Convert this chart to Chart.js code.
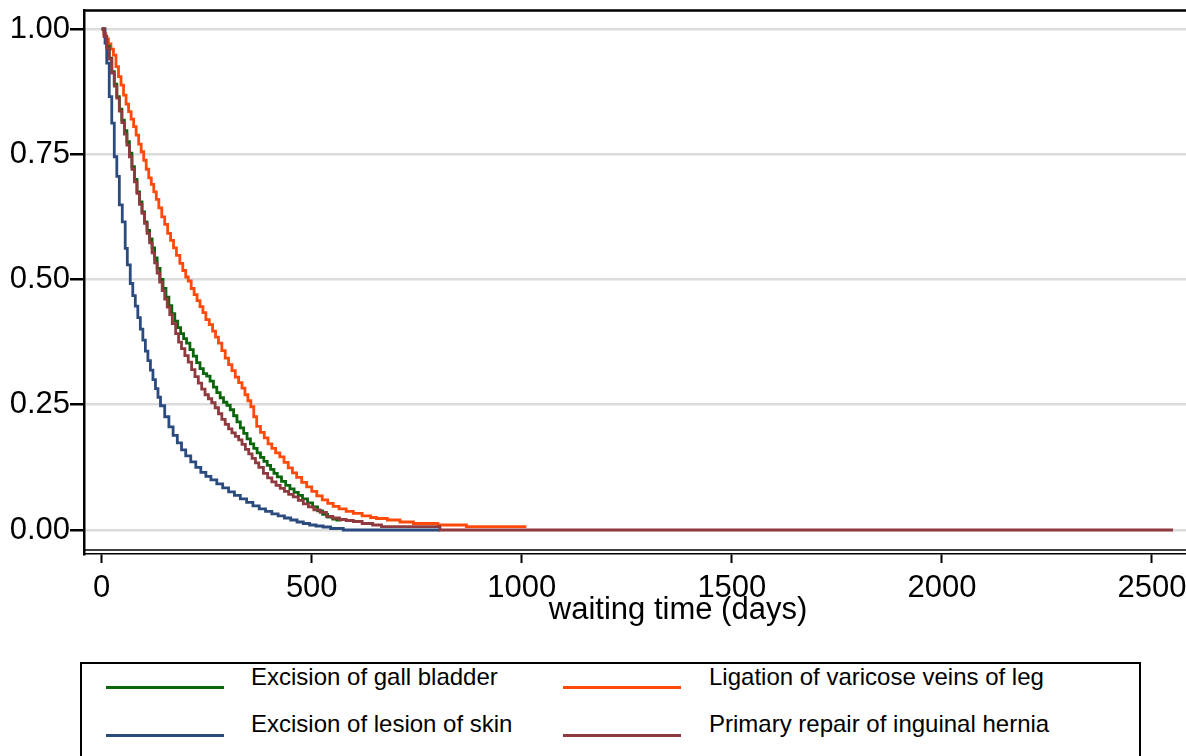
<!DOCTYPE html>
<html>
<head>
<meta charset="utf-8">
<script src="https://cdn.jsdelivr.net/npm/chart.js@4/dist/chart.umd.min.js"></script>
<style>
  html, body { margin: 0; padding: 0; background: #fff; width: 1186px; height: 756px; overflow: hidden; position: relative; font-family: "Liberation Sans", Arial, sans-serif; }
  #wrap { position: absolute; left: 0; top: 0; width: 1186px; height: 640px; }
  #legend { position: absolute; left: 80px; top: 662px; width: 1057px; height: 130px; border: 2px solid #000; box-sizing: content-box; }
  .lline { position: absolute; height: 3px; }
  .ltext { position: absolute; font-size: 24px; line-height: 24px; color: #000; white-space: nowrap; }
</style>
</head>
<body>
<div id="wrap"><canvas id="c" width="1186" height="640"></canvas></div>
<div id="legend"></div>
<script>
// ---- Data (Kaplan-Meier survivor estimates) ----
const seriesNames = ["Excision of gall bladder", "Excision of lesion of skin", "Ligation of varicose veins of leg", "Primary repair of inguinal hernia"];
const seriesColors = ["#0b650b", "#2b4a7e", "#ff4a0a", "#8e3a3f"];

const xTicks = [0, 500, 1000, 1500, 2000, 2500];
const yTicks = [0, 0.25, 0.5, 0.75, 1];
const xTitle = "waiting time (days)";

// Excision of gall bladder
const gallDays = [0,6,12,18,24,30,36,42,48,54,60,66,72,78,84,90,96,102,108,114,120,126,132,139,146,153,160,167,174,181,188,195,202,210,218,226,234,242,250,258,266,274,282,290,298,306,314,322,330,338,346,354,362,370,378,386,394,402,410,418,428,438,448,458,468,478,490,502,514,526,538,550,560,571];
const gallSurv = [1,0.985,0.965,0.942,0.915,0.89,0.865,0.84,0.818,0.797,0.775,0.752,0.725,0.70,0.675,0.655,0.635,0.615,0.598,0.581,0.563,0.543,0.522,0.500,0.482,0.465,0.448,0.432,0.417,0.404,0.392,0.382,0.373,0.360,0.347,0.334,0.322,0.312,0.307,0.297,0.285,0.274,0.264,0.255,0.249,0.240,0.228,0.216,0.204,0.193,0.182,0.172,0.163,0.154,0.145,0.137,0.129,0.121,0.113,0.106,0.097,0.089,0.082,0.075,0.069,0.062,0.054,0.046,0.038,0.031,0.026,0.022,0.020,0.020];

// Excision of lesion of skin
const skinDays = [0,8,12,18,24,30,36,42,49,56,61,68,74,80,86,92,98,104,110,116,122,128,134,140,150,160,170,180,190,200,212,224,236,248,260,274,288,302,316,330,345,360,375,390,405,420,435,450,465,480,495,510,527,545,575,805];
const skinSurv = [1,0.972,0.932,0.865,0.812,0.745,0.706,0.649,0.615,0.562,0.529,0.492,0.468,0.447,0.424,0.401,0.379,0.357,0.338,0.319,0.300,0.282,0.265,0.248,0.226,0.206,0.189,0.174,0.160,0.148,0.136,0.125,0.115,0.107,0.100,0.092,0.084,0.076,0.069,0.062,0.055,0.048,0.042,0.037,0.032,0.028,0.024,0.020,0.016,0.013,0.010,0.008,0.006,0.003,0,0];

// Ligation of varicose veins of leg
const veinDays = [0,5,10,16,22,28,34,40,46,52,58,64,70,76,82,88,94,100,106,112,118,124,130,136,143,150,157,164,171,178,186,193,200,206,213,220,227,234,241,248,256,264,271,278,286,294,302,310,318,326,334,341,348,355,362,369,378,387,396,405,414,424,434,444,454,464,476,488,500,512,525,538,551,565,582,599,620,640,654,680,710,742,800,868,1011];
const veinSurv = [1,0.99,0.98,0.97,0.96,0.948,0.925,0.905,0.888,0.868,0.85,0.835,0.82,0.805,0.788,0.77,0.755,0.738,0.72,0.703,0.69,0.675,0.66,0.643,0.625,0.61,0.592,0.578,0.563,0.548,0.532,0.518,0.505,0.497,0.482,0.47,0.458,0.446,0.434,0.42,0.41,0.397,0.385,0.373,0.358,0.343,0.33,0.318,0.305,0.294,0.283,0.27,0.258,0.246,0.226,0.207,0.195,0.184,0.172,0.163,0.154,0.146,0.135,0.124,0.114,0.105,0.095,0.086,0.077,0.068,0.060,0.053,0.047,0.042,0.037,0.033,0.028,0.025,0.023,0.020,0.016,0.013,0.010,0.0067,0.0067];

// Primary repair of inguinal hernia
const herniaDays = [0,6,12,18,24,30,36,42,48,54,60,66,72,78,84,90,96,102,108,114,120,126,132,138,144,150,156,162,168,176,183,190,198,206,214,222,230,238,246,254,262,270,278,286,294,302,310,318,326,334,342,350,358,366,374,385,395,405,415,425,435,445,456,468,480,492,505,520,535,550,566,582,599,620,645,666,805,2550];
const herniaSurv = [1,0.985,0.962,0.94,0.912,0.886,0.862,0.836,0.813,0.79,0.768,0.745,0.72,0.695,0.672,0.65,0.632,0.612,0.592,0.573,0.553,0.533,0.513,0.495,0.478,0.461,0.445,0.430,0.412,0.392,0.375,0.362,0.348,0.335,0.320,0.306,0.293,0.281,0.270,0.262,0.254,0.244,0.232,0.221,0.211,0.202,0.194,0.187,0.180,0.171,0.161,0.152,0.143,0.134,0.125,0.113,0.104,0.096,0.089,0.083,0.077,0.071,0.066,0.059,0.052,0.046,0.040,0.035,0.027,0.024,0.021,0.019,0.017,0.013,0.010,0.0067,0,0];

const seriesDays = [gallDays, skinDays, veinDays, herniaDays];
const seriesSurv = [gallSurv, skinSurv, veinSurv, herniaSurv];
const drawOrder = [2, 1, 3, 0]; // lower = drawn on top

// ---- Chart ----
const datasets = seriesNames.map((name, i) => ({
  label: name,
  data: seriesDays[i].map((d, k) => ({ x: d, y: seriesSurv[i][k] })),
  borderColor: seriesColors[i],
  backgroundColor: seriesColors[i],
  borderWidth: 2.8,
  pointRadius: 0,
  stepped: true,
  fill: false,
  order: drawOrder[i]
}));

const FONT = '"Liberation Sans", Arial, sans-serif';

const framePlugin = {
  id: 'frame',
  afterDraw(chart) {
    const { ctx, chartArea: a } = chart;
    ctx.save();
    ctx.strokeStyle = '#000';
    ctx.lineWidth = 2.5;
    ctx.beginPath(); ctx.moveTo(a.left - 1, a.top + 0.5); ctx.lineTo(a.right, a.top + 0.5); ctx.stroke();
    ctx.lineWidth = 1.5;
    ctx.beginPath(); ctx.moveTo(a.left, a.bottom - 4); ctx.lineTo(a.right, a.bottom - 4); ctx.stroke();
    ctx.fillStyle = '#000';
    ctx.font = '31px ' + FONT;
    ctx.textAlign = 'center';
    ctx.textBaseline = 'alphabetic';
    ctx.fillText(xTitle, 678, 619);
    ctx.restore();
  }
};

new Chart(document.getElementById('c'), {
  type: 'line',
  data: { datasets },
  options: {
    responsive: false,
    animation: false,
    devicePixelRatio: 1,
    layout: { padding: { top: 10, left: 0, right: 0, bottom: 0 } },
    plugins: { legend: { display: false }, tooltip: { enabled: false } },
    scales: {
      x: {
        type: 'linear',
        min: -42.1,
        max: 2581,
        afterBuildTicks: s => { s.ticks = xTicks.map(v => ({ value: v })); },
        afterFit: s => { s.height = 86; s.paddingLeft = 0; s.paddingRight = 0; },
        border: { display: true, color: '#000', width: 1.5 },
        grid: { drawOnChartArea: false, drawTicks: true, tickLength: 9, tickColor: '#000', tickWidth: 2 },
        ticks: { color: '#000', font: { family: FONT, size: 31 }, padding: 7, maxRotation: 0, autoSkip: false, callback: v => String(v) },
        title: { display: false }
      },
      y: {
        type: 'linear',
        min: -0.0479,
        max: 1.0379,
        afterBuildTicks: s => { s.ticks = yTicks.map(v => ({ value: v })); },
        afterFit: s => { s.width = 84; s.paddingTop = 0; s.paddingBottom = 0; },
        border: { display: true, color: '#000', width: 2.5 },
        grid: { color: '#dcdcdc', lineWidth: 2.5, drawTicks: true, tickLength: 14, tickColor: '#000', tickWidth: 2.5 },
        ticks: { color: '#000', font: { family: FONT, size: 31 }, padding: 0, autoSkip: false, callback: v => Number(v).toFixed(2) }
      }
    }
  },
  plugins: [framePlugin]
});

// ---- Legend (two columns, row-major as in the reference) ----
const legendOrder = [0, 2, 1, 3];
const colLineX = [24, 481];   // relative to legend box
const colTextX = [169, 627];
const rowLineY = [23, 71];
const rowTextTop = [1, 48];
const legend = document.getElementById('legend');
legendOrder.forEach((si, pos) => {
  const col = pos % 2, row = Math.floor(pos / 2);
  const ln = document.createElement('div');
  ln.className = 'lline';
  ln.style.left = colLineX[col] + 'px';
  ln.style.width = '118px';
  ln.style.top = (rowLineY[row] - 1.5) + 'px';
  ln.style.background = seriesColors[si];
  legend.appendChild(ln);
  const tx = document.createElement('div');
  tx.className = 'ltext';
  tx.style.left = colTextX[col] + 'px';
  tx.style.top = rowTextTop[row] + 'px';
  tx.textContent = seriesNames[si];
  legend.appendChild(tx);
});
</script>
</body>
</html>
